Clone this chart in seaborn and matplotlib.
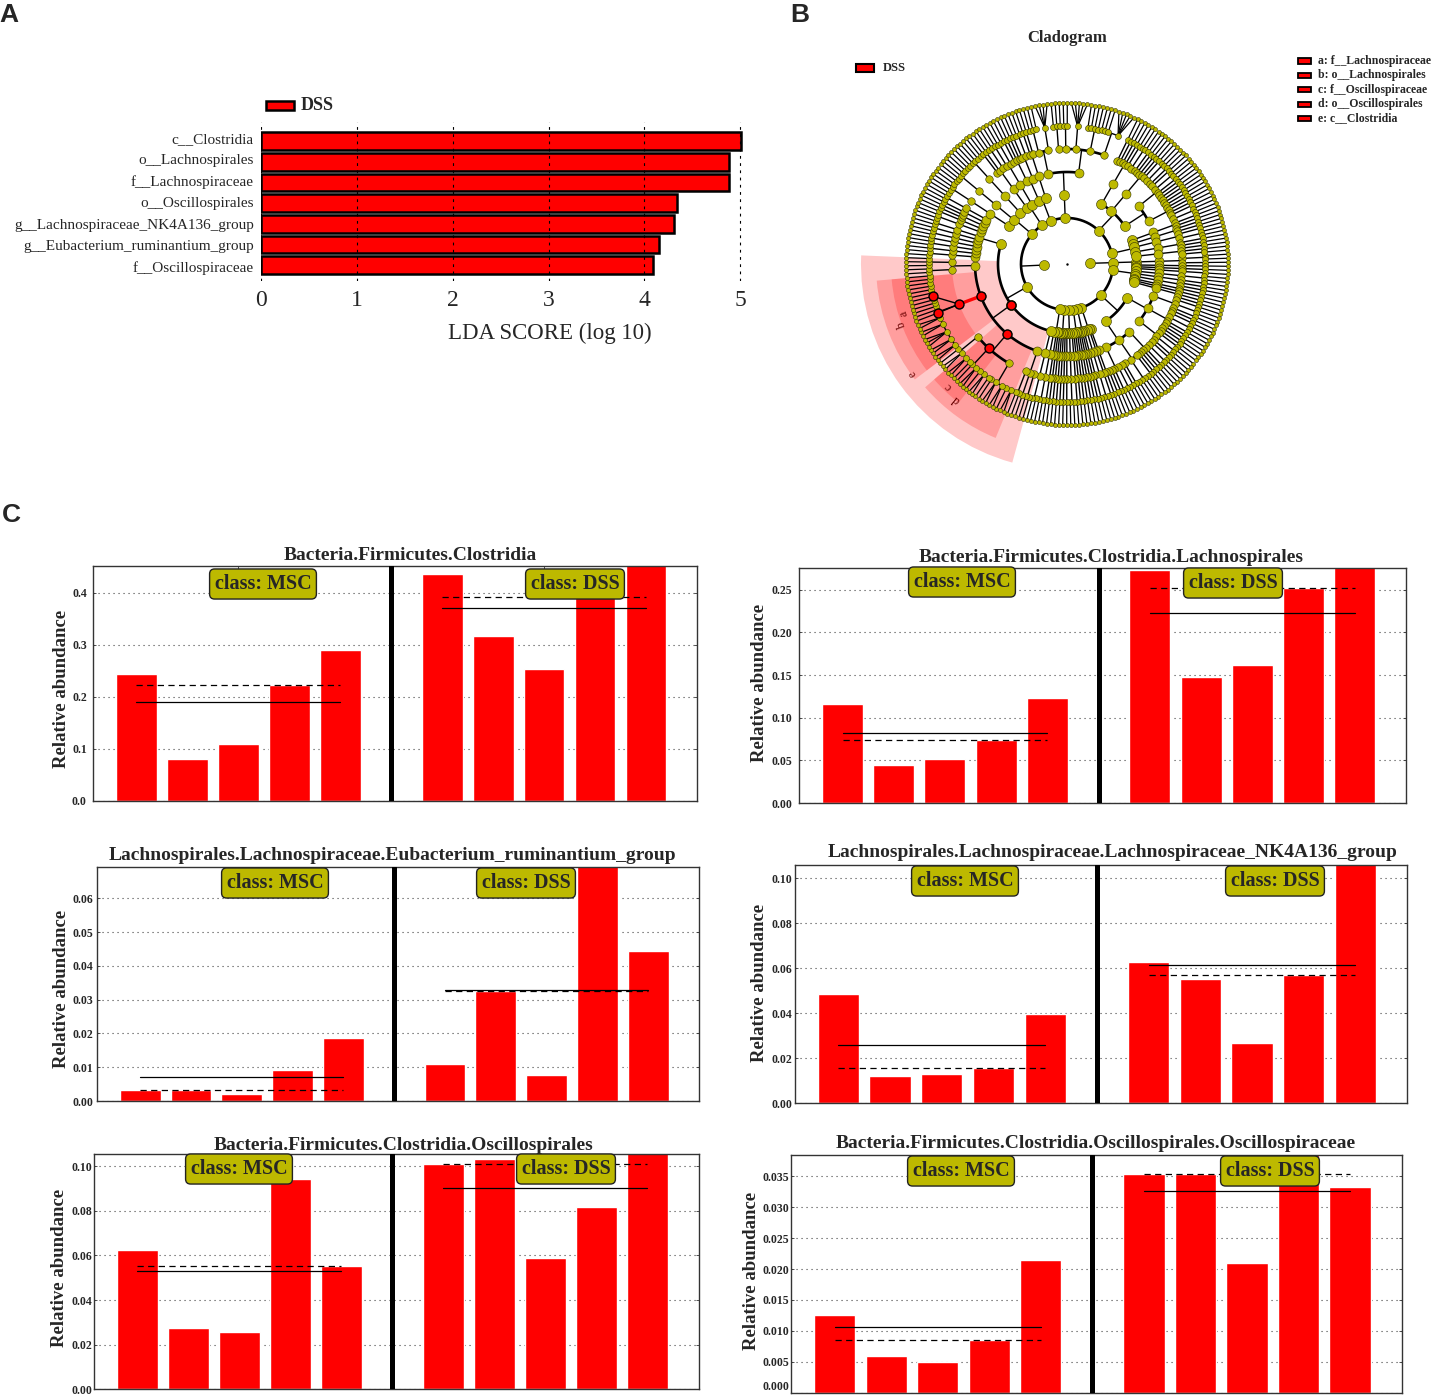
import numpy as np
import pandas as pd
import seaborn as sns
import matplotlib.pyplot as plt
from matplotlib.patches import Rectangle

W, H = 1433, 1396
RED = "#ff0000"
OLIVE = "#bdb900"

# panel A
lda_taxa = ["c__Clostridia", "o__Lachnospirales", "f__Lachnospiraceae", "o__Oscillospirales",
            "g__Lachnospiraceae_NK4A136_group", "g__Eubacterium_ruminantium_group", "f__Oscillospiraceae"]
lda_scores = [5.01, 4.88, 4.88, 4.34, 4.31, 4.15, 4.09]
lda_ticks = [0, 1, 2, 3, 4, 5]

# panel B, tree as nested lists: kingdom > phylum > class > order > family > genus (species count)
g1 = [1]
g2 = [1, 1]
tip = [[g1]]
archaea = [[[[g2, g1]]]]
phylum_a = [tip, tip, tip, [[g2]], tip, [[g1, g1]], tip, tip, tip]
phylum_b = [[[g1, g1, g2, g1, g1], [g1, g2, g1, g1, g1], [g1, g1, g1, g2, g1, g1]],
            [[g2, g1, g1, g1], [g1, g1, [1, 1, 1, 1], g1], [g1, g2, g1, g1, g1]]]
small_phyla = [[tip, tip, [[g2]]], [tip, tip, tip], [tip, tip, tip, tip],
               [tip, [[g2]], tip], [tip, tip, tip, tip], [tip, tip, [[g2]]]]
clostridia = [[g2, g1, g2],
              [[2, 1, 2, 2, 1, 1, 2], [1, 2, 1, 1, 2], [2, 1]],
              [[2, 2, 3, 2, 2, 1, 1, 1, 1, 1, 1, 1, 1, 1, 1, 1, 1]],
              [g2, [1, 1, 1]]]
class_f3 = [[g2], [g1], [g2], [g1], [g2], [g1], [g2], [g2], [g1], [g1, g1], [g1], [g2]]
firmicutes = [[[g2]], clostridia, class_f3]
phylum_c = [[[[1, 1, 1, 1]]], [[[1, 1, 1, 1, 1]]], [[[1, 1, 1, 1, 1, 1]]]]
phylum_d = [[[g1, g1, g2]], [[g1, g2]]]
phylum_e = [[[g1, g1, g1], [g1, g2]], [[g1, g1]]]
phylum_top = [[[[1, 1, 1], [4]], [[1, 1, 1], [1, 1], [5], [1, 1, 1, 1, 1], [1, 1, 5]]]]
phylum_f = [[[g1, g1, g1, g1, g1, g2]], [[g1, g1, g1, g1, g1, g2]],
            [[g1, g1, g2, g1, g1, g1, g1], [g1, g1, g1, g1, g1, g1, g2]]]
phylum_g = [[[g1, g1]], [[g1, g1]], [[g1, g2]], [[g1, g1]], [[g1, g1, g1]]]
bacteria = [phylum_a, phylum_b] + small_phyla + [firmicutes, phylum_c, phylum_d, phylum_e,
                                                 phylum_top, phylum_f, phylum_g]
kingdoms = [archaea, bacteria]

red_nodes = [(1, 8, 1), (1, 8, 1, 1), (1, 8, 1, 2), (1, 8, 1, 1, 1), (1, 8, 1, 2, 0),
             (1, 8, 1, 2, 0, 5), (1, 8, 1, 2, 0, 10)]
red_edge_parent = (1, 8, 1, 2)

ring_radius = [23, 46, 69, 92, 115, 138, 161]
ring_marker = [10, 10, 10, 9, 7.5, 6, 4]

wedge_labels = ["e", "b", "a", "d", "c"]
wedge_start = [177.6, 185, 185, 221, 221]
wedge_end = [254.6, 217.2, 217.2, 247.7, 232]
wedge_inner = [69, 92, 115, 92, 115]
wedge_outer = [206, 191, 176, 188, 176]
letter_angle = [215.4, 200.3, 196.9, 231, 226]
letter_radius = [189, 176, 170, 175, 170]

clado_legend = ["a: f__Lachnospiraceae", "b: o__Lachnospirales", "c: f__Oscillospiraceae",
                "d: o__Oscillospirales", "e: c__Clostridia"]

# panel C
panel_titles = ["Bacteria.Firmicutes.Clostridia",
                "Bacteria.Firmicutes.Clostridia.Lachnospirales",
                "Lachnospirales.Lachnospiraceae.Eubacterium_ruminantium_group",
                "Lachnospirales.Lachnospiraceae.Lachnospiraceae_NK4A136_group",
                "Bacteria.Firmicutes.Clostridia.Oscillospirales",
                "Bacteria.Firmicutes.Clostridia.Oscillospirales.Oscillospiraceae"]
msc_values = [[0.243, 0.080, 0.109, 0.222, 0.289],
              [0.1164, 0.0449, 0.0512, 0.0742, 0.1227],
              [0.0032, 0.0032, 0.0021, 0.0091, 0.0186],
              [0.0484, 0.0122, 0.0128, 0.0154, 0.0396],
              [0.0622, 0.0275, 0.0255, 0.0942, 0.0551],
              [0.0126, 0.0059, 0.0050, 0.0086, 0.0215]]
dss_values = [[0.436, 0.317, 0.253, 0.392, 0.46],
              [0.2727, 0.148, 0.162, 0.252, 0.28],
              [0.0109, 0.0325, 0.0076, 0.071, 0.0443],
              [0.0628, 0.0550, 0.0266, 0.0571, 0.108],
              [0.1009, 0.103, 0.059, 0.0815, 0.107],
              [0.0353, 0.0353, 0.0209, 0.039, 0.0332]]
msc_mean = [0.189, 0.082, 0.0072, 0.0257, 0.0528, 0.0107]
msc_median = [0.2224, 0.0742, 0.0032, 0.0154, 0.0551, 0.0086]
dss_mean = [0.371, 0.2223, 0.0329, 0.0616, 0.090, 0.0326]
dss_median = [0.392, 0.252, 0.0325, 0.0571, 0.1009, 0.0353]
y_tops = [0.451, 0.2758, 0.0692, 0.1059, 0.1054, 0.03845]
y_ticks = [[0.0, 0.1, 0.2, 0.3, 0.4],
           [0.0, 0.05, 0.10, 0.15, 0.20, 0.25],
           [0.0, 0.01, 0.02, 0.03, 0.04, 0.05, 0.06],
           [0.0, 0.02, 0.04, 0.06, 0.08, 0.10],
           [0.0, 0.02, 0.04, 0.06, 0.08, 0.10],
           [0.0, 0.005, 0.010, 0.015, 0.020, 0.025, 0.030, 0.035]]
y_fmt = ["%.1f", "%.2f", "%.2f", "%.2f", "%.2f", "%.3f"]
msc_slots = [0, 1, 2, 3, 4]
dss_slots = [6, 7, 8, 9, 10]

# pixel layout of panel C: left, top, right, bottom
boxes = [(93, 566, 697, 800.7), (799, 567.7, 1406, 803), (97, 867.3, 699, 1101),
         (794.5, 865, 1407, 1103), (94, 1154, 698.5, 1389.3), (791, 1155, 1401.5, 1392.7)]
title_xy = [(410, 555), (1111, 557), (392, 855), (1113, 852), (404, 1144), (1096, 1143)]
ylabel_xy = [(61, 688), (759, 682), (61, 988), (760, 982), (60, 1267), (751, 1270)]
msc_badge = [(263, 583), (962, 581), (275, 882), (965, 880), (239, 1168), (961, 1170)]
dss_badge = [(575, 583), (1233, 582), (526, 882), (1275, 880), (566, 1168), (1270, 1170)]
tick_pad = [4.5, 5, 2.5, 1.5, 1.5, 1]

sns.set_theme(style="white")
plt.rcParams["font.family"] = ["Liberation Serif", "DejaVu Serif"]

fig = plt.figure(figsize=(W / 100, H / 100), dpi=100)


def px_axes(left, top, right, bottom, **kwargs):
    return fig.add_axes([left / W, 1 - bottom / H, (right - left) / W, (bottom - top) / H], **kwargs)


def px_text(x, y, s, **kwargs):
    kwargs.setdefault("ha", "center")
    kwargs.setdefault("va", "center")
    return fig.text(x / W, 1 - (y + 1) / H, s, **kwargs)


def px_rect(left, top, right, bottom, lw):
    fig.add_artist(Rectangle((left / W, 1 - bottom / H), (right - left) / W, (bottom - top) / H,
                             transform=fig.transFigure, fc=RED, ec="black", lw=lw))


# panel letters
for letter, x, y in [("A", 9, 14), ("B", 800, 14), ("C", 11, 514)]:
    px_text(x, y, letter, family="Liberation Sans", fontweight="bold", fontsize=19)

# --- A: LDA bars
ax_a = px_axes(261, 122, 745, 281)
lda_df = pd.DataFrame({"taxon": lda_taxa, "score": lda_scores})
sns.barplot(data=lda_df, y="taxon", x="score", color=RED, saturation=1, width=0.86,
            edgecolor="black", linewidth=1.8, errorbar=None, ax=ax_a)
ax_a.set_xlim(0, 5.05)
ax_a.set_ylim(6.76, -0.92)
ax_a.set_xticks(lda_ticks)
ax_a.set_xlabel("")
ax_a.set_ylabel("")
ax_a.set_yticklabels([])
ax_a.set_axisbelow(False)
ax_a.grid(axis="x", color="black", lw=0.8, linestyle=(0, (2.5, 4)))
ax_a.tick_params(axis="x", length=0, pad=6.5, labelsize=17)
ax_a.tick_params(axis="y", length=0)
sns.despine(ax=ax_a, left=True, bottom=True)
for i, taxon in enumerate(lda_taxa):
    px_text(254, 138.5 + i * 21.4, taxon, ha="right", fontsize=11)
px_rect(266, 101, 294, 110, 1.8)
px_text(301, 104, "DSS", ha="left", fontweight="bold", fontsize=13)
px_text(550, 332, "LDA SCORE (log 10)", fontsize=16.5)


# --- B: cladogram
def count_leaves(node):
    return node if isinstance(node, int) else sum(count_leaves(c) for c in node)


n_leaves = sum(count_leaves(k) for k in kingdoms)
step = 360.0 / n_leaves
start_deg = 3.5
next_leaf = 0
node_rows = []
edge_rows = []


def place(node, depth, path):
    global next_leaf
    if depth == 6:
        angle = start_deg - next_leaf * step
        next_leaf += 1
    else:
        kids = [None] * node if isinstance(node, int) else node
        kid_angles = [place(c, depth + 1, path + (i,)) for i, c in enumerate(kids)]
        angle = (kid_angles[0] + kid_angles[-1]) / 2
        edge_rows.append((depth, path, angle, kid_angles))
    node_rows.append({"theta": np.deg2rad(angle), "r": ring_radius[depth], "depth": depth, "path": path})
    return angle


for k, kingdom in enumerate(kingdoms):
    place(kingdom, 0, (k,))
nodes = pd.DataFrame(node_rows)

ax_b = px_axes(857, 54, 1277, 474, projection="polar")
ax_b.set_ylim(0, 210)
ax_b.set_axis_off()

for a0, a1, r0, r1 in zip(wedge_start, wedge_end, wedge_inner, wedge_outer):
    ax_b.bar(np.deg2rad((a0 + a1) / 2), r1 - r0, width=np.deg2rad(a1 - a0), bottom=r0,
             color=RED, alpha=0.21, linewidth=0, zorder=1)

for depth, path, angle, kid_angles in edge_rows:
    r_parent = ring_radius[depth]
    r_child = ring_radius[depth + 1]
    t_parent = np.deg2rad(angle)
    if depth <= 4:
        sweep = np.deg2rad(np.linspace(kid_angles[0], kid_angles[-1], 80))
        ax_b.plot(sweep, np.full(80, r_child), color="black", lw=1.9 if depth <= 3 else 1.0, zorder=2)
        if path == red_edge_parent:
            ax_b.plot([t_parent, t_parent], [r_parent, r_child], color=RED, lw=2.4, zorder=3)
        else:
            ax_b.plot([t_parent, t_parent], [r_parent, r_child], color="black", lw=1.0, zorder=2)
        if depth == 4:
            for j, kid in enumerate(kid_angles):
                if path + (j,) in red_nodes:
                    ax_b.plot([t_parent, np.deg2rad(kid)], [r_parent, r_child], color="black", lw=1.0, zorder=2)
    else:
        for kid in kid_angles:
            ax_b.plot([t_parent, np.deg2rad(kid)], [r_parent, r_child], color="black", lw=0.9, zorder=2)

for depth in range(6, -1, -1):
    ring = nodes[nodes["depth"] == depth]
    sns.scatterplot(data=ring, x="theta", y="r", color=OLIVE, edgecolor="#333300", linewidth=0.4,
                    s=(ring_marker[depth] * 0.72) ** 2, ax=ax_b, zorder=4 + (6 - depth) * 0.1, legend=False)
hot = nodes[nodes["path"].isin(red_nodes)]
sns.scatterplot(data=hot, x="theta", y="r", color=RED, edgecolor="black", linewidth=1.0,
                s=(9 * 0.72) ** 2, ax=ax_b, zorder=6, legend=False)
ax_b.plot([0], [0], marker=".", ms=1.5, color="black", zorder=6)
ax_b.set_ylim(0, 210)
ax_b.set_axis_off()

for name, a, r in zip(wedge_labels, letter_angle, letter_radius):
    ax_b.text(np.deg2rad(a), r, name, rotation=a - 90, rotation_mode="anchor", ha="center", va="center",
              color="#6a0000", fontsize=8.5, zorder=7)

px_text(1067, 37.5, "Cladogram", fontweight="bold", fontsize=12)
px_rect(856, 64.5, 874, 71.5, 1.5)
px_text(883, 67, "DSS", ha="left", fontweight="bold", fontsize=9)
for i, entry in enumerate(clado_legend):
    y = 61 + i * 14.4
    px_rect(1298, y - 2.5, 1311, y + 2.5, 1.3)
    px_text(1318, y - 1, entry, ha="left", fontweight="bold", fontsize=8.5)

# --- C: per-sample bars
for i, box in enumerate(boxes):
    ax = px_axes(*box)
    frame = pd.DataFrame({"slot": msc_slots + dss_slots, "value": msc_values[i] + dss_values[i]})
    sns.barplot(data=frame, x="slot", y="value", native_scale=True, color=RED, saturation=1,
                width=0.8, errorbar=None, ax=ax, zorder=2)
    ax.axvline(5, color="black", lw=3.6, zorder=3)
    ax.plot([0, 4], [msc_mean[i]] * 2, color="black", lw=0.9, zorder=4)
    ax.plot([0, 4], [msc_median[i]] * 2, color="black", lw=0.9, linestyle=(0, (5, 3.5)), zorder=4)
    ax.plot([6, 10], [dss_mean[i]] * 2, color="black", lw=0.9, zorder=4)
    ax.plot([6, 10], [dss_median[i]] * 2, color="black", lw=0.9, linestyle=(0, (5, 3.5)), zorder=4)
    ax.set_xlim(-0.85, 11)
    ax.set_ylim(0, y_tops[i])
    ax.set_xticks([2, 8])
    ax.set_xticklabels([])
    ax.set_yticks(y_ticks[i])
    ax.set_yticklabels([y_fmt[i] % v for v in y_ticks[i]], fontweight="bold", fontsize=8.5)
    ax.set_xlabel("")
    ax.set_ylabel("")
    ax.grid(axis="y", color="#444444", lw=0.8, linestyle=(0, (1, 3.5)), zorder=1)
    ax.grid(axis="x", visible=False)
    ax.set_axisbelow(True)
    ax.tick_params(axis="both", direction="in", length=2.5, width=0.6, color="#333333",
                   top=True, bottom=True, left=True, right=True)
    ax.tick_params(axis="y", pad=tick_pad[i])
    if i == 5:
        # bottom row sits right on the image edge, keep the label inside it
        ax.get_yticklabels()[0].set_va("bottom")
    for spine in ax.spines.values():
        spine.set_visible(True)
        spine.set_color("#333333")
        spine.set_linewidth(1.0)
    px_text(*title_xy[i], panel_titles[i], fontweight="bold", fontsize=14)
    px_text(*ylabel_xy[i], "Relative abundance", rotation=90, fontweight="bold", fontsize=13.5)
    for xy, label in [(msc_badge[i], "class: MSC"), (dss_badge[i], "class: DSS")]:
        px_text(*xy, label, fontweight="bold", fontsize=14.5,
                bbox=dict(boxstyle="round,pad=0.25", fc=OLIVE, ec="#222222", lw=1.0))

fig.savefig("out.png", dpi=100)
